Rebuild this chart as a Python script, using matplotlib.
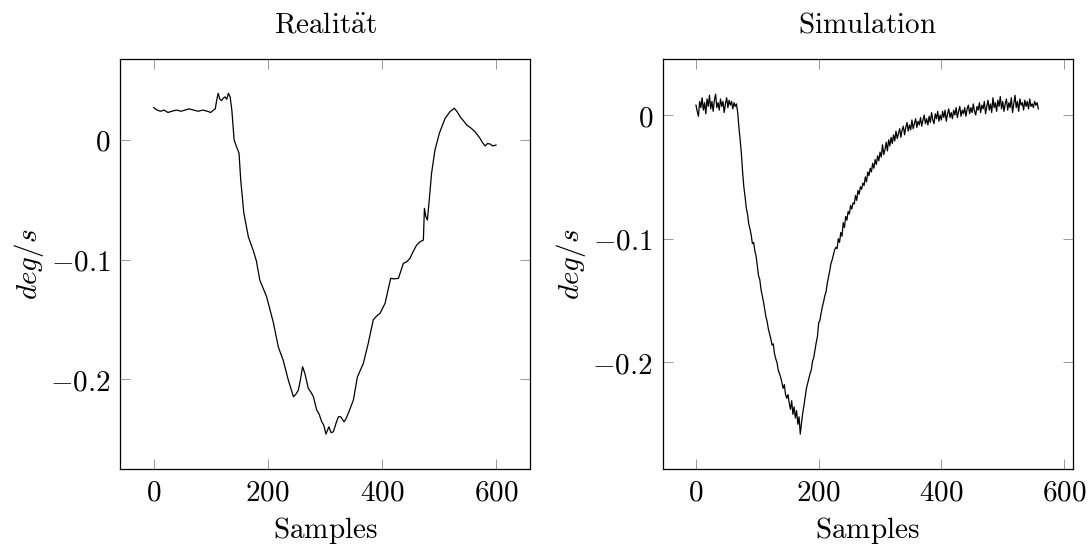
import numpy as np
import matplotlib
matplotlib.use("Agg")
from matplotlib import pyplot as plt
from matplotlib.ticker import FuncFormatter

# ==========================================================
# DADOS
# ==========================================================

# Realitaet: amostra / valor
real_x = [0, 6, 12, 18, 25, 32, 40, 48, 55, 62, 70, 78, 86, 94, 100, 105,
          108, 110, 113, 116, 119, 122, 125, 128, 131, 134, 137, 141, 145.5,
          149.6, 152.5, 158, 166, 175, 180, 186, 192, 198, 204, 210, 218.5,
          227, 236, 245, 249, 253.6, 258, 261, 265, 271, 276, 280, 285.7,
          290, 294.5, 298, 302, 307, 311, 315, 320, 323.7, 327.8, 333.6, 337,
          341, 350, 357, 367.5, 376, 385, 391, 396.7, 405.5, 415.4, 421, 429,
          437.6, 443, 449, 455, 461, 467, 472.7, 474.5, 477, 479.7, 483, 487,
          493, 500.7, 510.7, 519.4, 527, 532, 537, 543, 548.6, 556, 563, 572,
          576, 581, 585, 589.5, 594, 600]
real_y = [0.027, 0.025, 0.024, 0.025, 0.023, 0.024, 0.025, 0.024, 0.025,
          0.026, 0.025, 0.024, 0.025, 0.024, 0.023, 0.025, 0.026, 0.032,
          0.039, 0.034, 0.033, 0.035, 0.036, 0.034, 0.039, 0.036, 0.025,
          0.000, -0.006, -0.011, -0.033, -0.061, -0.081, -0.093, -0.101,
          -0.117, -0.124, -0.131, -0.142, -0.153, -0.173, -0.184, -0.2006,
          -0.2145, -0.2125, -0.209, -0.198, -0.1894, -0.195, -0.2075, -0.211,
          -0.2145, -0.2256, -0.229, -0.2354, -0.238, -0.2457, -0.2396,
          -0.2445, -0.2437, -0.236, -0.2312, -0.2312, -0.2354, -0.233,
          -0.2284, -0.2173, -0.198, -0.1866, -0.170, -0.150, -0.147, -0.1448,
          -0.1365, -0.1156, -0.116, -0.1156, -0.103, -0.102, -0.099, -0.093,
          -0.0877, -0.085, -0.0836, -0.0571, -0.064, -0.0669, -0.050, -0.028,
          -0.0084, 0.0056, 0.018, 0.0237, 0.0265, 0.0235, 0.0195, 0.016,
          0.0125, 0.010, 0.007, 0.0014, -0.002, -0.005, -0.003, -0.0033,
          -0.005, -0.0042]

# Simulacao: uma leitura a cada 2 amostras (0 ... 558)
sim_y = [
    0.008, 0.003, -0.001, 0.011, 0.006, 0.014, 0.004, 0.010, 0.001, 0.013,
    0.007, 0.016, 0.005, 0.011, 0.003, 0.012, 0.017, 0.006, 0.010, 0.004,
    0.013, 0.007, 0.011, 0.002, 0.009, 0.014, 0.006, 0.012, 0.008, 0.011,
    0.005, 0.010, 0.007, 0.009, 0.002, -0.010, -0.020, -0.031, -0.046, -0.058,
    -0.066, -0.075, -0.080, -0.088, -0.092, -0.097, -0.104, -0.103, -0.110, -0.114,
    -0.122, -0.130, -0.133, -0.141, -0.146, -0.151, -0.157, -0.163, -0.167, -0.173,
    -0.177, -0.181, -0.186, -0.185, -0.193, -0.197, -0.200, -0.206, -0.209, -0.212,
    -0.216, -0.221, -0.218, -0.226, -0.229, -0.226, -0.233, -0.238, -0.231, -0.242,
    -0.236, -0.245, -0.239, -0.250, -0.244, -0.258, -0.249, -0.241, -0.235, -0.228,
    -0.221, -0.217, -0.213, -0.209, -0.206, -0.199, -0.196, -0.190, -0.184, -0.179,
    -0.168, -0.166, -0.160, -0.155, -0.151, -0.146, -0.143, -0.136, -0.131, -0.126,
    -0.120, -0.117, -0.113, -0.109, -0.107, -0.108, -0.100, -0.103, -0.095, -0.098,
    -0.087, -0.091, -0.082, -0.085, -0.078, -0.080, -0.073, -0.076, -0.071, -0.072,
    -0.065, -0.069, -0.061, -0.064, -0.058, -0.060, -0.055, -0.057, -0.050, -0.054,
    -0.046, -0.049, -0.043, -0.046, -0.039, -0.043, -0.036, -0.040, -0.033, -0.037,
    -0.030, -0.034, -0.024, -0.032, -0.028, -0.022, -0.029, -0.020, -0.025, -0.018,
    -0.023, -0.016, -0.021, -0.013, -0.019, -0.015, -0.011, -0.018, -0.012, -0.009,
    -0.016, -0.010, -0.006, -0.013, -0.008, -0.012, -0.004, -0.011, -0.007, -0.003,
    -0.010, -0.005, -0.008, -0.002, -0.009, -0.004, 0.000, -0.007, -0.003, -0.008,
    -0.001, -0.006, 0.002, -0.004, -0.007, 0.001, -0.003, 0.003, -0.005, 0.000,
    -0.004, 0.003, -0.002, 0.004, -0.005, 0.001, 0.005, -0.002, 0.002, -0.003,
    0.004, 0.000, 0.006, -0.002, 0.003, 0.007, -0.001, 0.004, 0.001, 0.006,
    -0.001, 0.005, 0.008, 0.001, 0.006, 0.002, 0.009, 0.003, 0.000, 0.007,
    0.004, 0.010, 0.002, 0.008, 0.005, 0.011, 0.001, 0.007, 0.012, 0.004,
    0.009, 0.002, 0.014, 0.006, 0.010, 0.003, 0.012, 0.007, 0.015, 0.005,
    0.011, 0.003, 0.009, 0.013, 0.004, 0.010, 0.006, 0.014, 0.002, 0.009,
    0.016, 0.006, 0.011, 0.003, 0.013, 0.008, 0.010, 0.004, 0.012, 0.007,
    0.011, 0.005, 0.013, 0.007, 0.009, 0.006, 0.011, 0.008, 0.010, 0.005,
]
sim_x = np.arange(len(sim_y)) * 2

xticks = [0, 200, 400, 600]
yticks = [-0.2, -0.1, 0]

# ==========================================================
# ESTILO (parecido com pgfplots / LaTeX)
# ==========================================================

plt.rcParams["mathtext.fontset"] = "cm"
FS = 21

fmt = FuncFormatter(lambda v, p: "$%g$" % v)

fig = plt.figure(figsize=(10.89, 5.47), dpi=100)
ax1 = fig.add_axes([0.1102, 0.1431, 0.3765, 0.7485])
ax2 = fig.add_axes([0.6085, 0.1426, 0.3768, 0.7495])

paineis = [
    (ax1, real_x, real_y, r"$\mathrm{Realit\ddot{a}t}$", (-59, 659.6), (-0.2746, 0.0674)),
    (ax2, sim_x, sim_y, r"$\mathrm{Simulation}$", (-54.3, 614.5), (-0.2862, 0.0453)),
]

for ax, x, y, titulo, xl, yl in paineis:
    ax.plot(x, y, color="black", lw=0.9)
    ax.set_xlim(*xl)
    ax.set_ylim(*yl)
    ax.set_xticks(xticks)
    ax.set_yticks(yticks)
    ax.xaxis.set_major_formatter(fmt)
    ax.yaxis.set_major_formatter(fmt)
    ax.tick_params(direction="in", top=True, right=True, length=7,
                   width=0.7, color="#9a9a9a", labelsize=FS, pad=7)
    for s in ax.spines.values():
        s.set_linewidth(0.9)
    ax.set_title(titulo, fontsize=FS, pad=19)
    ax.set_xlabel(r"$\mathrm{Samples}$", fontsize=FS, labelpad=6)
    ax.set_ylabel(r"$deg/s$", fontsize=FS, labelpad=3)

fig.savefig("out.png", dpi=100)
